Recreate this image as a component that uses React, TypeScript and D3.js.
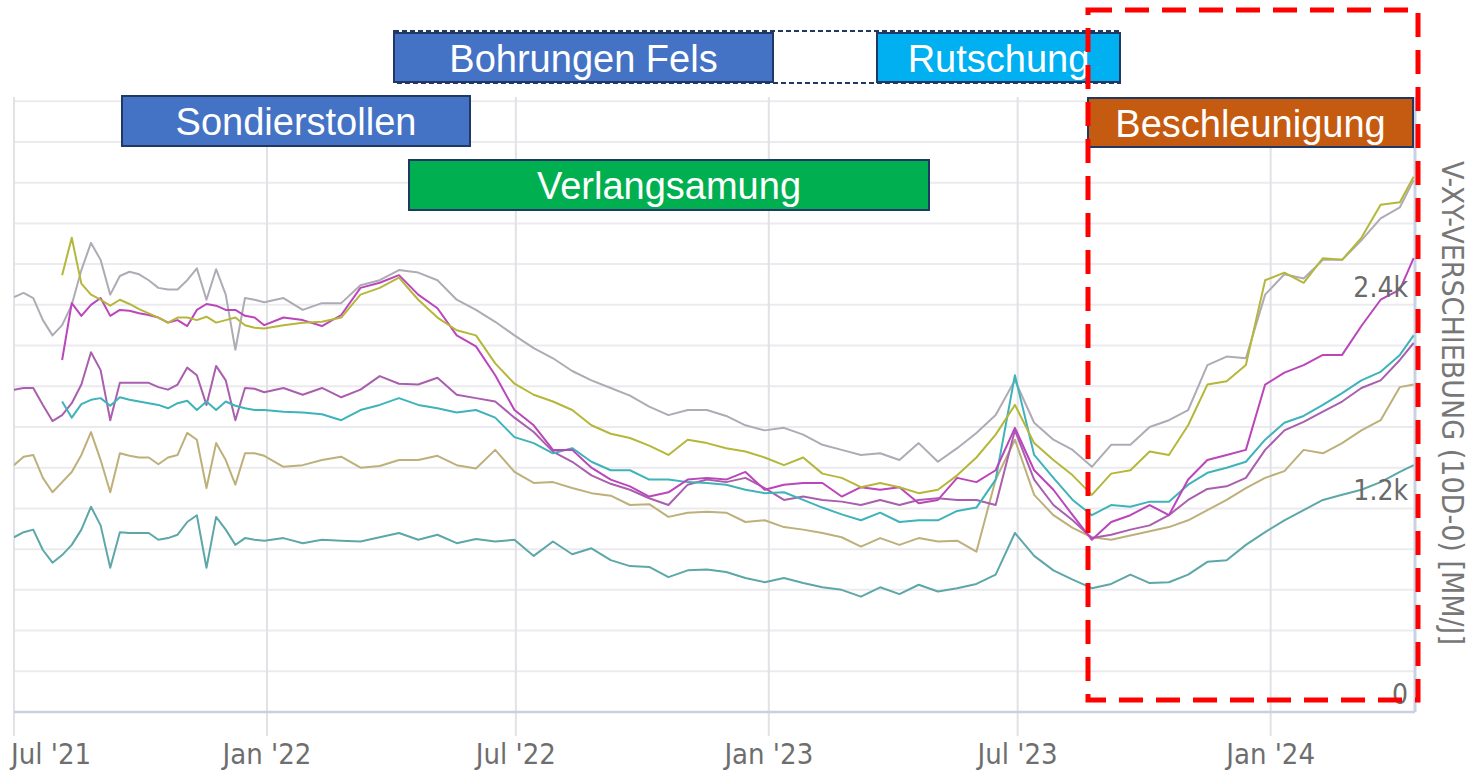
import * as d3 from "d3";

// weekly samples for the first half year, then every two weeks
const weeklyDates = [
  "2021-07-01", "2021-07-08", "2021-07-15", "2021-07-22", "2021-07-29", "2021-08-05", "2021-08-12",
  "2021-08-19", "2021-08-26", "2021-09-02", "2021-09-09", "2021-09-16", "2021-09-23", "2021-09-30",
  "2021-10-07", "2021-10-14", "2021-10-21", "2021-10-28", "2021-11-04", "2021-11-11", "2021-11-18",
  "2021-11-25", "2021-12-02", "2021-12-09", "2021-12-16", "2021-12-23", "2021-12-30",
];
const biweeklyDates = [
  "2022-01-13", "2022-01-27", "2022-02-10", "2022-02-24", "2022-03-10", "2022-03-24", "2022-04-07",
  "2022-04-21", "2022-05-05", "2022-05-19", "2022-06-02", "2022-06-16", "2022-06-30", "2022-07-14",
  "2022-07-28", "2022-08-11", "2022-08-25", "2022-09-08", "2022-09-22", "2022-10-06", "2022-10-20",
  "2022-11-03", "2022-11-17", "2022-12-01", "2022-12-15", "2022-12-29",
  "2023-01-12", "2023-01-26", "2023-02-09", "2023-02-23", "2023-03-09", "2023-03-23", "2023-04-06",
  "2023-04-20", "2023-05-04", "2023-05-18", "2023-06-01", "2023-06-15", "2023-06-29", "2023-07-13",
  "2023-07-27", "2023-08-10", "2023-08-24", "2023-09-07", "2023-09-21", "2023-10-05", "2023-10-19",
  "2023-11-02", "2023-11-16", "2023-11-30", "2023-12-14", "2023-12-28",
  "2024-01-11", "2024-01-25", "2024-02-08", "2024-02-22", "2024-03-07", "2024-03-21", "2024-04-04",
  "2024-04-14",
];

const n5 = [null, null, null, null, null];

const grayVals = [
  2445, 2470, 2440, 2310, 2220, 2280, 2400, 2605, 2765, 2665, 2460, 2570, 2595, 2580, 2545, 2500, 2490,
  2490, 2545, 2615, 2430, 2610, 2460, 2135, 2440, 2430, 2415,
  2440, 2370, 2410, 2410, 2515, 2545, 2605, 2590, 2545, 2430, 2370, 2300, 2220, 2145, 2085, 2010, 1955,
  1910, 1865, 1800, 1750, 1780, 1780, 1745, 1690, 1660, 1675, 1635, 1575, 1545, 1515, 1525, 1485, 1585,
  1475, 1555, 1645, 1750, 1955, 1705, 1605, 1545, 1445, 1575, 1575, 1680, 1720, 1780, 2045, 2095, 2085,
  2460, 2580, 2555, 2665, 2665, 2780, 2910, 2975, 3135,
];
const oliveVals = [
  ...n5, 2575, 2795, 2525, 2460, 2430, 2395, 2430, 2405, 2375, 2350, 2325, 2295, 2325, 2325, 2310, 2330,
  2295, 2310, 2325, 2280, 2265, 2260,
  2280, 2295, 2300, 2325, 2460, 2500, 2560, 2430, 2325, 2250, 2220, 2055, 1935, 1870, 1830, 1780, 1690,
  1640, 1615, 1570, 1515, 1605, 1585, 1555, 1535, 1500, 1455, 1500, 1405, 1380, 1325, 1350, 1325, 1290,
  1310, 1395, 1500, 1635, 1810, 1585, 1485, 1395, 1280, 1405, 1425, 1535, 1515, 1690, 1930, 1950, 2045,
  2545, 2590, 2530, 2675, 2665, 2795, 2990, 3005, 3155,
];
const magentaVals = [
  ...n5, 2075, 2410, 2335, 2400, 2440, 2335, 2370, 2365, 2350, 2340, 2325, 2295, 2310, 2275, 2370, 2405,
  2395, 2370, 2370, 2335, 2325, 2280,
  2325, 2310, 2275, 2340, 2500, 2530, 2575, 2460, 2380, 2220, 2155, 1985, 1780, 1690, 1545, 1545, 1440,
  1370, 1330, 1270, 1295, 1370, 1380, 1370, 1415, 1310, 1340, 1350, 1350, 1270, 1325, 1310, 1325, 1230,
  1250, 1380, 1355, 1425, 1675, 1425, 1310, 1160, 1015, 1120, 1160, 1220, 1160, 1370, 1485, 1515, 1545,
  1930, 2000, 2045, 2105, 2105, 2275, 2430, 2490, 2675,
];
const purpleVals = [
  1900, 1910, 1910, 1810, 1715, 1750, 1820, 1930, 2120, 2015, 1720, 1940, 1940, 1940, 1940, 1915, 1900,
  1930, 2030, 1985, 1810, 2040, 1955, 1720, 1910, 1905, 1885,
  1910, 1870, 1910, 1855, 1900, 1980, 1935, 1930, 1970, 1870, 1850, 1830, 1735, 1650, 1535, 1475, 1395,
  1345, 1310, 1260, 1220, 1340, 1370, 1355, 1380, 1320, 1250, 1270, 1250, 1240, 1220, 1250, 1220, 1250,
  1260, 1250, 1250, 1220, 1660, 1370, 1220, 1130, 1025, 1045, 1075, 1100, 1160, 1250, 1315, 1330, 1380,
  1545, 1660, 1710, 1770, 1830, 1910, 1955, 2075, 2175,
];
const tealVals = [
  ...n5, 1830, 1735, 1815, 1840, 1850, 1805, 1855, 1840, 1830, 1820, 1810, 1790, 1820, 1835, 1780, 1830,
  1780, 1830, 1805, 1790, 1780, 1780,
  1770, 1765, 1755, 1720, 1780, 1810, 1850, 1810, 1790, 1765, 1780, 1735, 1620, 1585, 1525, 1555, 1475,
  1425, 1425, 1370, 1370, 1355, 1350, 1340, 1310, 1290, 1295, 1250, 1205, 1165, 1130, 1175, 1120, 1130,
  1130, 1185, 1205, 1370, 1985, 1515, 1380, 1250, 1160, 1220, 1210, 1240, 1240, 1340, 1410, 1440, 1475,
  1605, 1705, 1745, 1810, 1880, 1955, 2005, 2105, 2220,
];
const khakiVals = [
  1455, 1505, 1515, 1380, 1295, 1355, 1415, 1515, 1650, 1485, 1295, 1525, 1510, 1500, 1500, 1460, 1500,
  1515, 1645, 1605, 1320, 1585, 1485, 1340, 1525, 1525, 1510,
  1445, 1455, 1485, 1505, 1440, 1450, 1485, 1485, 1510, 1455, 1435, 1545, 1415, 1350, 1355, 1320, 1290,
  1275, 1220, 1225, 1150, 1175, 1180, 1175, 1120, 1130, 1090, 1075, 1055, 1030, 975, 1025, 985, 1025,
  1005, 1010, 945, 1370, 1605, 1280, 1160, 1085, 1030, 1015, 1040, 1065, 1090, 1130, 1190, 1250, 1320,
  1380, 1420, 1545, 1525, 1585, 1660, 1720, 1915, 1930,
];
const lowTealVals = [
  1030, 1060, 1075, 955, 880, 925, 985, 1075, 1210, 1100, 850, 1060, 1055, 1055, 1055, 1015, 1025, 1045,
  1120, 1160, 850, 1150, 1075, 985, 1025, 1015, 1010,
  1025, 995, 1015, 1010, 1005, 1030, 1055, 1015, 1045, 995, 1020, 1005, 1015, 920, 1005, 930, 965, 895,
  860, 855, 795, 835, 840, 825, 790, 765, 790, 760, 735, 720, 680, 735, 695, 750, 710, 730, 755, 810,
  1055, 920, 835, 780, 730, 755, 810, 760, 765, 810, 885, 895, 985, 1060, 1130, 1190, 1250, 1280, 1310,
  1355, 1415, 1455,
];

const seriesList = [
  { name: "gray", color: "#aeabb4", values: grayVals },
  { name: "khaki", color: "#bdb07a", values: khakiVals },
  { name: "lowTeal", color: "#5ea7a8", values: lowTealVals },
  { name: "purple", color: "#a95fae", values: purpleVals },
  { name: "teal", color: "#3fb3ba", values: tealVals },
  { name: "magenta", color: "#bb45bb", values: magentaVals },
  { name: "olive", color: "#b5b73a", values: oliveVals },
];

const yLabelTicks = [0, 1200, 2400];
const gridStep = 240;
const axisTitle = "V-XY-VERSCHIEBUNG (10D-0) [MM/J]";

const boxes = [
  { label: "Bohrungen Fels", x0: 394, x1: 773, y0: 33, y1: 82, fill: "#4472C4" },
  { label: "Rutschung", x0: 877, x1: 1120, y0: 33, y1: 82, fill: "#00B0F0" },
  { label: "Sondierstollen", x0: 122, x1: 470, y0: 96, y1: 146, fill: "#4472C4" },
  { label: "Verlangsamung", x0: 409, x1: 929, y0: 160, y1: 210, fill: "#00B050" },
  { label: "Beschleunigung", x0: 1088, x1: 1413, y0: 98, y1: 147, fill: "#C55A11" },
];

const parse = d3.timeParse("%Y-%m-%d");
const dates = [...weeklyDates, ...biweeklyDates].map((d) => parse(d) as Date);

const condensed = "'DejaVu Sans Condensed', 'DejaVu Sans', sans-serif";

export default function App() {
  const W = 1472;
  const H = 773;
  const left = 14;
  const right = 1415;
  const top = 97;
  const bottom = 712;

  const x = d3
    .scaleTime()
    .domain([parse("2021-07-01") as Date, parse("2024-04-15") as Date])
    .range([left, right]);
  const y = d3.scaleLinear().domain([0, 3625]).range([bottom, top]);

  const line = d3
    .line<number | null>()
    .defined((v) => v != null)
    .x((_, i) => x(dates[i]))
    .y((v) => y(v as number));

  const xTicks = x.ticks(d3.timeMonth.every(6) as d3.TimeInterval);
  const fmt = d3.timeFormat("%b '%y");
  const gridVals = d3.range(0, 3600 + 1, gridStep);

  return (
    <svg
      width={W}
      height={H}
      style={{ position: "absolute", left: 0, top: 0, background: "#fff" }}
    >
      <defs>
        <clipPath id="plot">
          <rect x={left} y={top - 10} width={right - left} height={bottom - top + 10} />
        </clipPath>
      </defs>

      {gridVals.map((v) => (
        <line key={v} x1={left} x2={right} y1={y(v)} y2={y(v)} stroke="#ebebef" strokeWidth={2} />
      ))}
      {xTicks.map((d, i) => (
        <line key={i} x1={x(d)} x2={x(d)} y1={top} y2={736} stroke="#e1e1e6" strokeWidth={2} />
      ))}

      <line x1={left} x2={right} y1={bottom} y2={bottom} stroke="#cbcfe0" strokeWidth={2.5} />
      <line x1={right} x2={right} y1={top} y2={bottom} stroke="#c9d1e4" strokeWidth={3} />

      <g clipPath="url(#plot)">
        {seriesList.map((s) => (
          <path
            key={s.name}
            d={line(s.values) || ""}
            fill="none"
            stroke={s.color}
            strokeWidth={2}
            strokeLinejoin="round"
          />
        ))}
      </g>

      {xTicks.map((d, i) => (
        <text
          key={i}
          x={i === 0 ? left - 3 : x(d)}
          y={764}
          textAnchor={i === 0 ? "start" : "middle"}
          fontFamily={condensed}
          fontSize={29}
          fill="#6e6e6e"
        >
          {fmt(d)}
        </text>
      ))}

      {yLabelTicks.map((v) => (
        <text
          key={v}
          x={right - 7}
          y={y(v) - 8}
          textAnchor="end"
          fontFamily={condensed}
          fontSize={28}
          fill="#6a6a6a"
        >
          {v === 0 ? "0" : `${v / 1000}k`}
        </text>
      ))}

      <text
        transform="translate(1452,403) rotate(90)"
        textAnchor="middle"
        dominantBaseline="central"
        fontFamily={condensed}
        fontSize={30}
        fill="#777"
      >
        {axisTitle}
      </text>

      {/* dashed frame joining the two drilling phases */}
      <rect x={394} y={31} width={1120 - 394} height={52} fill="none" stroke="#1f3864" strokeWidth={2} strokeDasharray="5 3" />

      {boxes.map((b) => (
        <g key={b.label}>
          <rect
            x={b.x0}
            y={b.y0}
            width={b.x1 - b.x0}
            height={b.y1 - b.y0}
            fill={b.fill}
            stroke="#1f3864"
            strokeWidth={2}
          />
          <text
            x={(b.x0 + b.x1) / 2}
            y={(b.y0 + b.y1) / 2 + 1}
            textAnchor="middle"
            dominantBaseline="central"
            fontFamily="'Liberation Sans', Arial, sans-serif"
            fontSize={38}
            fill="#fff"
          >
            {b.label}
          </text>
        </g>
      ))}

      <rect
        x={1088}
        y={10}
        width={1418 - 1088}
        height={700 - 10}
        fill="none"
        stroke="#ff0000"
        strokeWidth={5}
        strokeDasharray="24 13"
      />
    </svg>
  );
}
